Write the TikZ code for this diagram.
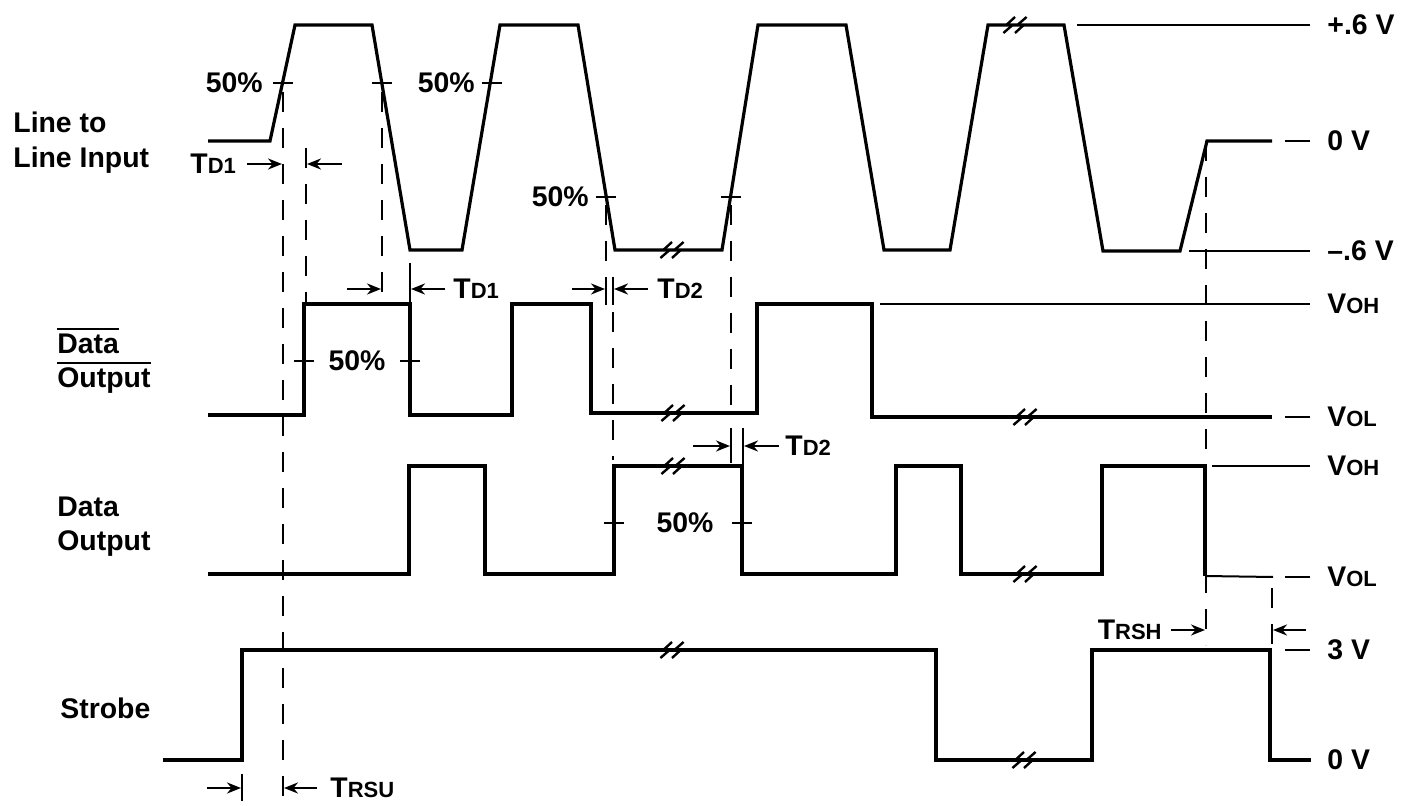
\documentclass[tikz,border=0pt]{standalone}
\usepackage{fontspec}
\setmainfont{Liberation Sans}
\usetikzlibrary{arrows.meta}
\newcommand{\sm}[1]{{\fontsize{11}{13}\selectfont #1}}
\tikzset{brk/.pic={
  \draw[line width=1.2pt] (-5.8pt,-4pt) -- (-2pt,-0.7pt) -- (-3.6pt,0.7pt) -- (0pt,4pt);
  \draw[line width=1.2pt] (0pt,-4pt) -- (3.6pt,-0.7pt) -- (2pt,0.7pt) -- (5.8pt,4pt);
}}
\begin{document}
\begin{tikzpicture}[x=0.5pt,y=-0.5pt,
  wave/.style={line width=1.6pt},
  ref/.style={line width=1pt},
  dsh/.style={line width=1pt,dash pattern=on 10pt off 8pt},
  tm/.style={line width=1.1pt,-{Stealth[length=7pt,width=5.5pt]}},
  lbl/.style={font=\fontsize{14.2}{17}\selectfont\bfseries,inner sep=0pt}]
\useasboundingbox (0,0) rectangle (1413,806);

\node[lbl,anchor=base west] (li1) at (13,133) {Line to};
\node[lbl,anchor=base west] (li2) at (13,168) {Line Input};
\node[lbl,anchor=base west] (db1) at (57,354) {Data};
\node[lbl,anchor=base west] (db2) at (57,388) {Output};
\draw[ref] ([yshift=2.5pt]db1.north west) -- ([yshift=2.5pt]db1.north east);
\draw[ref] ([yshift=2.5pt]db2.north west) -- ([yshift=2.5pt]db2.north east);
\node[lbl,anchor=base west] (do1) at (57,517) {Data};
\node[lbl,anchor=base west] (do2) at (57,551) {Output};
\node[lbl,anchor=base west] (st) at (60,718) {Strobe};

% line to line input
\draw[wave] (208,141) -- (270,141) -- (295,25) -- (372,25) -- (410,250) -- (462,250) -- (500,25) -- (578,25) -- (615,250) -- (722,250) -- (758,25) -- (846,25) -- (884,250) -- (950,250) -- (988,25) -- (1064,25) -- (1103,251) -- (1180,251) -- (1207,141) -- (1272,141);
\draw[ref] (1285,141) -- (1310,141);
\draw[ref] (1077,25) -- (1310,25);
\draw[ref] (1189,251) -- (1310,251);
\pic at (672,250) {brk};
\pic at (1015,25) {brk};
\foreach \x/\y in {283/83,382/83,492/83,606/197,731/197}
  \draw[ref] (\x-10,\y) -- (\x+10,\y);
\node[lbl,anchor=east] (p1) at (263,83) {50\%};
\node[lbl,anchor=east] (p2) at (475,83) {50\%};
\node[lbl,anchor=east] (p3) at (589,197) {50\%};

% data output (bar)
\draw[wave] (208,415) -- (304,415) -- (304,304) -- (410,304) -- (410,415) -- (512,415) -- (512,304) -- (591,304) -- (591,413) -- (757,413) -- (757,304) -- (872,304) -- (872,417) -- (1272,417);
\draw[ref] (880,304) -- (1310,304);
\draw[ref] (1285,417) -- (1310,417);
\pic at (673,413) {brk};
\pic at (1025,417) {brk};
\foreach \x in {304,410}
  \draw[ref] (\x-10,361) -- (\x+10,361);
\node[lbl] (p4) at (357,361) {50\%};

% data output
\draw[wave] (208,574) -- (409,574) -- (409,466) -- (485,466) -- (485,574) -- (614,574) -- (614,466) -- (742,466) -- (742,574) -- (896,574) -- (896,466) -- (961,466) -- (961,574) -- (1102,574) -- (1102,466) -- (1205,466) -- (1205,576);
\draw[ref] (1205,576) -- (1273,577);
\draw[ref] (1212,466) -- (1310,466);
\draw[ref] (1285,577) -- (1310,577);
\pic at (673,466) {brk};
\pic at (1025,574) {brk};
\foreach \x in {614,742}
  \draw[ref] (\x-10,523) -- (\x+10,523);
\node[lbl] (p5) at (685,523) {50\%};

% strobe
\draw[wave] (163,760) -- (242,760) -- (242,650) -- (936,650) -- (936,760) -- (1092,760) -- (1092,650) -- (1270,650) -- (1270,760) -- (1311,760);
\draw[ref] (1285,650) -- (1310,650);
\pic at (672,650) {brk};
\pic at (1024,760) {brk};

% timing marks
\draw[dsh] (283,92) -- (283,801);
\draw[dsh] (306,148) -- (306,304);
\draw[dsh] (382,92) -- (382,297);
\draw[ref] (410,263) -- (410,304);
\draw[dsh] (606,205) -- (606,272);
\draw[ref] (606,277) -- (606,305);
\draw[ref] (613,277) -- (613,305);
\draw[dsh] (613,312) -- (613,460);
\draw[dsh] (731,205) -- (731,410);
\draw[ref] (731,428) -- (731,463);
\draw[ref] (743,428) -- (743,466);
\draw[dsh] (1206,141) -- (1206,645);
\draw[dsh] (1272,588) -- (1272,650);
\draw[ref] (242,774) -- (242,801);

\draw[tm] (247,164) -- (282,164);
\draw[tm] (342,164) -- (307,164);
\draw[tm] (347,289) -- (381,289);
\draw[tm] (445,289) -- (411,289);
\draw[tm] (572,289) -- (605,289);
\draw[tm] (648,289) -- (614,289);
\draw[tm] (693,446) -- (730,446);
\draw[tm] (779,446) -- (744,446);
\draw[tm] (1171,630) -- (1205,630);
\draw[tm] (1306,630) -- (1273,630);
\draw[tm] (207,788) -- (241,788);
\draw[tm] (317,788) -- (284,788);

\node[lbl,anchor=west] (t1) at (190,164) {T\sm{D1}};
\node[lbl,anchor=west] (t2) at (453,289) {T\sm{D1}};
\node[lbl,anchor=west] (t3) at (657,289) {T\sm{D2}};
\node[lbl,anchor=west] (t4) at (785,446) {T\sm{D2}};
\node[lbl,anchor=east] (t5) at (1162,630) {T\sm{RSH}};
\node[lbl,anchor=west] (t6) at (330,788) {T\sm{RSU}};

% levels
\node[lbl,anchor=west] (v1) at (1327,25) {+.6 V};
\node[lbl,anchor=west] (v2) at (1327,141) {0 V};
\node[lbl,anchor=west] (v3) at (1327,251) {–.6 V};
\node[lbl,anchor=west] (v4) at (1327,304) {V\sm{OH}};
\node[lbl,anchor=west] (v5) at (1327,417) {V\sm{OL}};
\node[lbl,anchor=west] (v6) at (1327,466) {V\sm{OH}};
\node[lbl,anchor=west] (v7) at (1327,577) {V\sm{OL}};
\node[lbl,anchor=west] (v8) at (1327,650) {3 V};
\node[lbl,anchor=west] (v9) at (1327,760) {0 V};
\end{tikzpicture}
\end{document}
